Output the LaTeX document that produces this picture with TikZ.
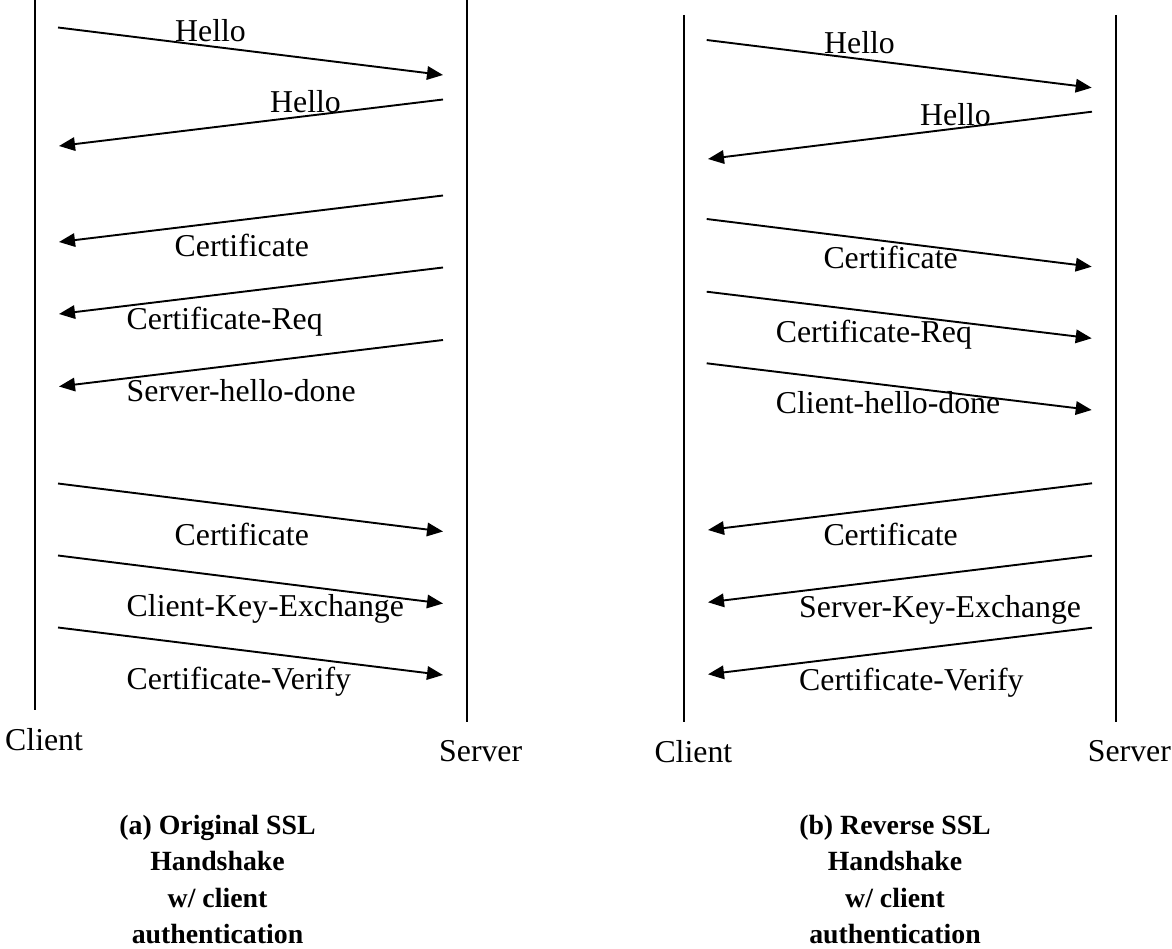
\documentclass[tikz,border=0pt]{standalone}
\usepackage{fontspec}
\setmainfont{Liberation Serif}
\usetikzlibrary{arrows.meta}
\begin{document}
\begin{tikzpicture}[x=1pt,y=-1pt,
  lifeline/.style={line width=2pt},
  msg/.style={line width=1.9pt,-{Triangle[length=16pt,width=13.5pt]}},
  lbl/.style={anchor=base west,inner sep=0pt,font=\fontsize{31.8}{36}\selectfont},
  captext/.style={anchor=base,inner sep=0pt,font=\fontsize{27.8}{36.5}\selectfont\bfseries}]
\useasboundingbox (0,0) rectangle (1172,949);
% ---------- left panel ----------
\coordinate (LCt) at (35,0);   \coordinate (LCb) at (35,710);
\coordinate (LSt) at (467,0);  \coordinate (LSb) at (467,722);
\draw[lifeline] (LCt) -- (LCb);
\draw[lifeline] (LSt) -- (LSb);
\coordinate (l1a) at (58,27.5);  \coordinate (l1b) at (443,75);
\coordinate (l2a) at (443,99.5); \coordinate (l2b) at (59,146);
\coordinate (l3a) at (443,195.5);\coordinate (l3b) at (59,242);
\coordinate (l4a) at (443,267.5);\coordinate (l4b) at (59,314);
\coordinate (l5a) at (443,340);  \coordinate (l5b) at (59,386.5);
\coordinate (l6a) at (58,483.5); \coordinate (l6b) at (443,531.5);
\coordinate (l7a) at (58,555.5); \coordinate (l7b) at (443,603.5);
\coordinate (l8a) at (58,627.5); \coordinate (l8b) at (443,675);
\foreach \i in {1,...,8}{\draw[msg] (l\i a) -- (l\i b);}
\node[lbl] (lt1) at (175,41.7) {Hello};
\node[lbl] (lt2) at (270,113) {Hello};
\node[lbl] (lt3) at (174.5,256.7) {Certificate};
\node[lbl] (lt4) at (126.5,330) {Certificate-Req};
\node[lbl] (lt5) at (126.5,401.7) {Server-hello-done};
\node[lbl] (lt6) at (174.5,545) {Certificate};
\node[lbl] (lt7) at (126.5,616.7) {Client-Key-Exchange};
\node[lbl] (lt8) at (126.5,689.3) {Certificate-Verify};
\node[lbl] (lcl) at (5,750.7) {Client};
\node[lbl] (lsv) at (439,761.7) {Server};
% ---------- right panel ----------
\coordinate (RCt) at (684,15);   \coordinate (RCb) at (684,722);
\coordinate (RSt) at (1115.7,15); \coordinate (RSb) at (1115.7,722);
\draw[lifeline] (RCt) -- (RCb);
\draw[lifeline] (RSt) -- (RSb);
\coordinate (r1a) at (706.7,40);   \coordinate (r1b) at (1091.7,87.7);
\coordinate (r2a) at (1092,111.7); \coordinate (r2b) at (708,159);
\coordinate (r3a) at (706.7,219);  \coordinate (r3b) at (1091.7,266.7);
\coordinate (r4a) at (706.7,291.7);\coordinate (r4b) at (1091.7,338.3);
\coordinate (r5a) at (706.7,363.3);\coordinate (r5b) at (1091.7,410);
\coordinate (r6a) at (1092,483.3); \coordinate (r6b) at (708,530);
\coordinate (r7a) at (1092,555.7); \coordinate (r7b) at (708,602.3);
\coordinate (r8a) at (1092,627.7); \coordinate (r8b) at (708,674.3);
\foreach \i in {1,...,8}{\draw[msg] (r\i a) -- (r\i b);}
\node[lbl] (rt1) at (824,53.3) {Hello};
\node[lbl] (rt2) at (920,125.7) {Hello};
\node[lbl] (rt3) at (823.3,268.3) {Certificate};
\node[lbl] (rt4) at (775.7,342.7) {Certificate-Req};
\node[lbl] (rt5) at (775.7,413.5) {Client-hello-done};
\node[lbl] (rt6) at (823.3,545) {Certificate};
\node[lbl] (rt7) at (799,617.3) {Server-Key-Exchange};
\node[lbl] (rt8) at (799,690) {Certificate-Verify};
\node[lbl] (rcl) at (654.3,762.7) {Client};
\node[lbl] (rsv) at (1087.7,761.7) {Server};
% ---------- captions ----------
\node[captext] (ca1) at (217.5,834) {(a) Original SSL};
\node[captext] (ca2) at (217.5,870.5) {Handshake};
\node[captext] (ca3) at (217.5,907) {w/ client};
\node[captext] (ca4) at (217.5,943) {authentication};
\node[captext] (cb1) at (895,834) {(b) Reverse SSL};
\node[captext] (cb2) at (895,870.5) {Handshake};
\node[captext] (cb3) at (895,907) {w/ client};
\node[captext] (cb4) at (895,943) {authentication};
\end{tikzpicture}
\end{document}
